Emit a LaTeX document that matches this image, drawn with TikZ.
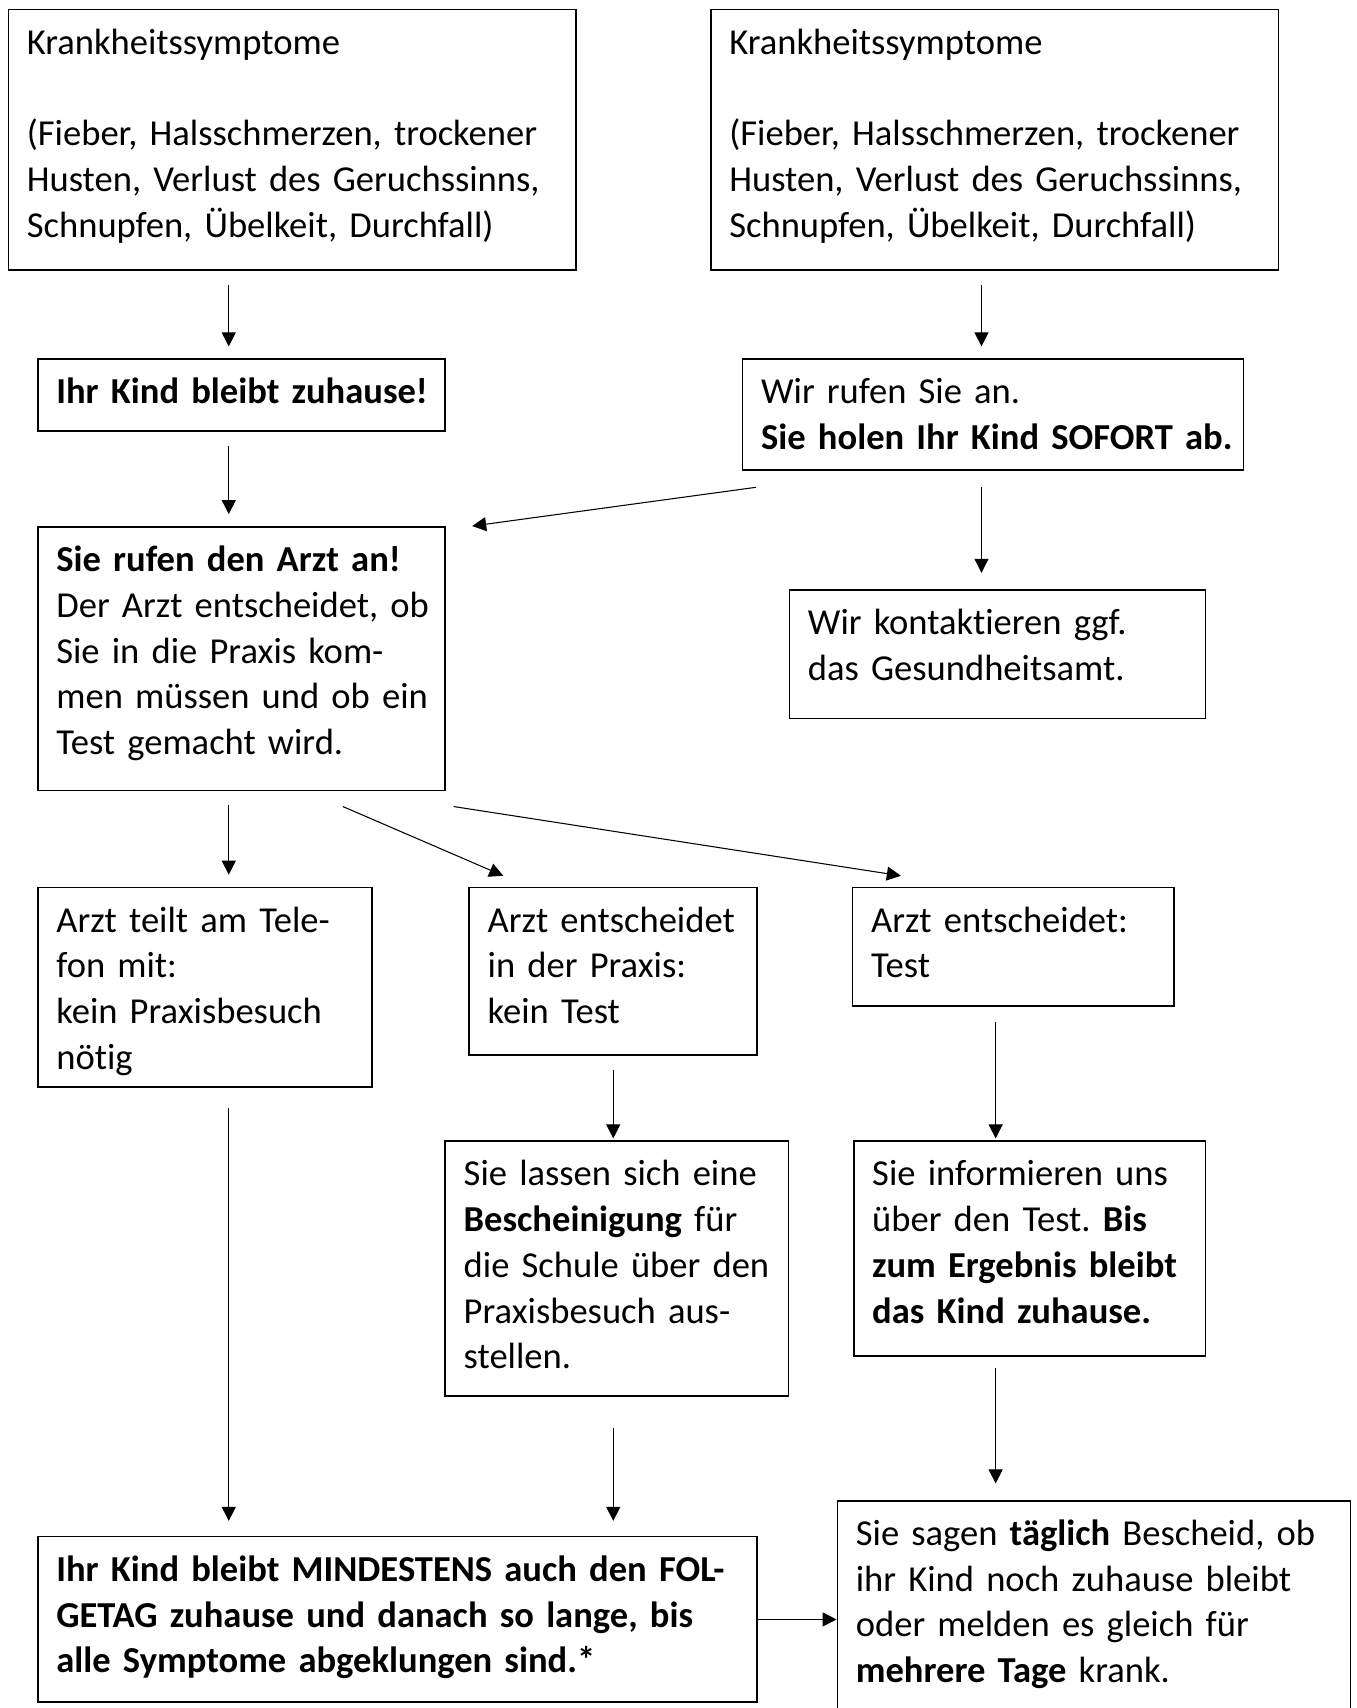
\documentclass[tikz,border=0pt]{standalone}
\usepackage{fontspec}
\setmainfont{Carlito}[Ligatures=NoCommon]
\frenchspacing
\hyphenpenalty=10000
\usetikzlibrary{arrows.meta}
\tikzset{
  flowbox/.style={draw=black, line width=0.9pt, anchor=north west, align=left,
    inner xsep=0.37cm, inner ysep=0pt, text height=0.895cm,
    font=\fontsize{20.8}{26}\selectfont,
    execute at begin node={\rightskip=-0.5cm plus 1fil\relax}},
  flowarrow/.style={-{Triangle[length=0.28cm,width=0.28cm]}, line width=0.6pt,
    shorten <=0.28cm, shorten >=0.24cm},
}

\begin{document}
\begin{tikzpicture}
\useasboundingbox (0,0) rectangle (27.12,34.157);
% arrow columns
\coordinate (col1) at (4.575,0);
\coordinate (col2) at (12.264,0);
\coordinate (col3) at (19.911,0);
\coordinate (colB) at (19.628,0);
% top row
\node[flowbox, text width=10.61cm, text depth=4.315cm] (symL) at (0.152,33.98)
  {Krankheitssymptome\\[26pt](Fieber, Halsschmerzen, trockener\\Husten, Verlust des Geruchssinns,\\Schnupfen, Übelkeit, Durchfall)};
\node[flowbox, text width=10.61cm, text depth=4.315cm] (symR) at (14.20,33.98)
  {Krankheitssymptome\\[26pt](Fieber, Halsschmerzen, trockener\\Husten, Verlust des Geruchssinns,\\Schnupfen, Übelkeit, Durchfall)};
\node[flowbox, text width=7.407cm, text depth=0.545cm] (home) at (0.741,26.99)
  {\textbf{Ihr Kind bleibt zuhause!}};
\node[flowbox, text width=9.28cm, text depth=1.325cm] (call) at (14.835,26.99)
  {Wir rufen Sie an.\\\textbf{Sie holen Ihr Kind SOFORT ab.}};
\node[flowbox, text width=7.407cm, text depth=4.377cm] (doctor) at (0.741,23.636)
  {\textbf{Sie rufen den Arzt an!}\\Der Arzt entscheidet, ob\\Sie in die Praxis kom-\\men müssen und ob ein\\Test gemacht wird.};
\node[flowbox, text width=7.582cm, text depth=1.676cm] (health) at (15.772,22.372)
  {Wir kontaktieren ggf.\\das Gesundheitsamt.};
% decisions
\node[flowbox, text width=5.948cm, text depth=3.092cm] (phone) at (0.741,16.425)
  {Arzt teilt am Tele-\\fon mit:\\kein Praxisbesuch\\nötig};
\node[flowbox, text width=5.011cm, text depth=2.46cm] (notest) at (9.367,16.425)
  {Arzt entscheidet\\in der Praxis:\\kein Test};
\node[flowbox, text width=5.686cm, text depth=1.479cm] (test) at (17.035,16.425)
  {Arzt entscheidet:\\Test};
\node[flowbox, text width=6.122cm, text depth=4.202cm] (certif) at (8.888,11.35)
  {Sie lassen sich eine\\\textbf{Bescheinigung} für\\die Schule über den\\Praxisbesuch aus-\\stellen.};
\node[flowbox, text width=6.296cm, text depth=3.396cm] (inform) at (17.057,11.35)
  {Sie informieren uns\\über den Test. \textbf{Bis}\\\textbf{zum Ergebnis bleibt}\\\textbf{das Kind zuhause.}};
% bottom row
\node[flowbox, text width=13.637cm, text depth=2.416cm] (stay) at (0.741,3.442)
  {\textbf{Ihr Kind bleibt MINDESTENS auch den FOL-}\\\textbf{GETAG zuhause und danach so lange, bis}\\\textbf{alle Symptome abgeklungen sind.*}};
\node[flowbox, text width=9.52cm, text depth=3.555cm] (daily) at (16.730,4.161)
  {Sie sagen \textbf{täglich} Bescheid, ob\\ihr Kind noch zuhause bleibt\\oder melden es gleich für\\\textbf{mehrere Tage} krank.};
% connectors
\draw[flowarrow] (symL.south -| col1) -- (home.north -| col1);
\draw[flowarrow] (symR.south -| colB) -- (call.north -| colB);
\draw[flowarrow] (home.south -| col1) -- (doctor.north -| col1);
\draw[flowarrow, shorten <=0.33cm, shorten >=0.33cm] (call.south -| colB) -- (health.north -| colB);
\draw[flowarrow, shorten <=0pt, shorten >=0pt] ([shift={(0.283,-0.327)}]call.south west) -- ([xshift=0.523cm]doctor.north east);
\draw[flowarrow] (doctor.south -| col1) -- (phone.north -| col1);
\draw[flowarrow, shorten <=0pt, shorten >=0pt] ([shift={(2.026,-0.305)}]doctor.south) -- ([shift={(0.697,0.218)}]notest.north west);
\draw[flowarrow, shorten <=0pt, shorten >=0pt] ([shift={(0.152,-0.305)}]doctor.south east) -- ([shift={(0.980,0.218)}]test.north west);
\draw[flowarrow, shorten >=0.04cm] (notest.south -| col2) -- (certif.north -| col2);
\draw[flowarrow, shorten <=0.30cm, shorten >=0.04cm] (test.south -| col3) -- (inform.north -| col3);
\draw[flowarrow, shorten <=0.41cm, shorten >=0.30cm] (phone.south -| col1) -- (stay.north -| col1);
\draw[flowarrow, shorten <=0.63cm, shorten >=0.30cm] (certif.south -| col2) -- (stay.north -| col2);
\draw[flowarrow, shorten <=0.22cm, shorten >=0.33cm] (inform.south -| col3) -- (daily.north -| col3);
\draw[flowarrow, shorten <=0pt, shorten >=0pt] (stay.east) -- (stay.east -| daily.west);
\end{tikzpicture}
\end{document}
